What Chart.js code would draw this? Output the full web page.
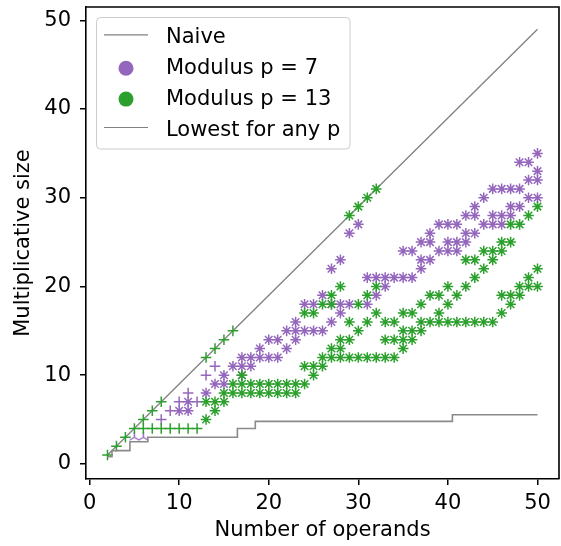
<!DOCTYPE html>
<html><head><meta charset="utf-8">
<script src="https://cdn.jsdelivr.net/npm/chart.js@4"></script>
<style>html,body{margin:0;padding:0;background:#fff}canvas{display:block}</style>
</head><body>
<canvas id="c" width="561" height="546"></canvas>
<script>
// ---------- data ----------
const xTickValues = [0, 10, 20, 30, 40, 50];
const yTickValues = [0, 10, 20, 30, 40, 50];
const legendLabels = ['Naive', 'Modulus p = 7', 'Modulus p = 13', 'Lowest for any p'];

const naiveX = [2, 50];
const naiveY = [1, 49];

const lowestX = [2,3,4,5,6,7,8,9,10,11,12,13,14,15,16,17,18,19,20,21,22,23,24,25,26,
                 27,28,29,30,31,32,33,34,35,36,37,38,39,40,41,42,43,44,45,46,47,48,49,50];
const lowestY = [0.8,1.5,1.5,2.5,2.5,3,3,3,3,3,3,3,3,3,3,4,4,
                 4.8,4.8,4.8,4.8,4.8,4.8,4.8,4.8,4.8,4.8,4.8,4.8,4.8,4.8,4.8,4.8,4.8,4.8,4.8,4.8,4.8,4.8,
                 5.55,5.55,5.55,5.55,5.55,5.55,5.55,5.55,5.55,5.55];

// p = 7 (purple)
const p7Tri = [[5,3],[6,3]];
const p7Plus = [[8,5],[9,6],[10,7],[12,7],[11,8],[13,10],[14,11]];
const p7Star = [[10,6],[11,6],[11,7],[13,8],[14,9],[15,9],[15,10],[16,11],[17,10],[17,11],[17,12],
  [18,11],[18,12],[19,12],[19,13],[20,12],[20,14],[21,12],[21,14],[22,13],[22,15],[23,14],[23,15],[23,16],
  [24,15],[24,18],[25,15],[25,18],[26,15],[26,19],[27,16],[27,18],[27,22],[28,17],[28,18],[28,23],
  [29,18],[29,26],[30,27],[31,18],[31,21],[32,19],[32,21],[33,20],[33,21],[34,21],[35,21],[35,24],
  [36,21],[36,24],[37,22],[37,23],[37,25],[38,23],[38,25],[38,26],[39,24],[39,27],[40,24],[40,25],[40,27],
  [41,24],[41,25],[41,27],[42,25],[42,26],[42,28],[43,26],[43,28],[43,29],[44,27],[44,30],[45,27],[45,28],
  [45,31],[46,27],[46,28],[46,31],[47,28],[47,29],[47,31],[48,29],[48,31],[48,34],[49,30],[49,32],[49,34],
  [50,30],[50,32],[50,33],[50,35]];

// p = 13 (green)
const p13Plus = [[2,1],[3,2],[4,3],[5,4],[6,5],[7,6],[8,7],[6,4],[7,4],[8,4],[9,4],[10,4],[11,4],[12,4],
  [13,12],[14,13],[15,14],[16,15]];
const p13Star = [[13,5],[13,7],[14,6],[14,7],[15,7],[15,8],[16,8],[16,9],[17,8],[17,9],[17,10],
  [18,8],[18,9],[19,8],[19,9],[20,8],[20,9],[21,8],[21,9],[22,8],[22,9],[23,8],[23,9],
  [24,9],[24,11],[24,17],[25,10],[25,11],[25,17],[26,11],[26,12],[26,18],[27,12],[27,13],[27,18],[27,19],
  [28,12],[28,13],[28,14],[28,20],[29,12],[29,14],[29,16],[29,28],[30,12],[30,15],[30,18],[30,29],
  [31,12],[31,16],[31,19],[31,30],[32,12],[32,17],[32,20],[32,31],[33,12],[33,14],[33,16],
  [34,12],[34,14],[34,16],[35,13],[35,14],[35,15],[35,17],[36,14],[36,15],[36,17],[37,15],[37,16],[37,18],
  [38,16],[38,19],[39,16],[39,17],[39,19],[40,16],[40,18],[40,20],[41,16],[41,19],[42,16],[42,20],[42,23],
  [43,16],[43,21],[43,23],[44,16],[44,22],[44,24],[45,16],[45,23],[45,24],[46,17],[46,19],[46,24],[46,25],
  [47,18],[47,19],[47,25],[47,27],[48,19],[48,20],[48,27],[49,20],[49,21],[49,28],[50,20],[50,22],[50,29]];

// ---------- styling ----------
const PURPLE = '#9467bd', GREEN = '#2ca02c', GRAY = '#808080';
const FONT = 'DejaVu Sans';
const FS = 21;
Chart.defaults.font.family = FONT;
Chart.defaults.color = '#000';

function triUp(color) {
  const c = document.createElement('canvas');
  c.width = 13; c.height = 13;
  const g = c.getContext('2d');
  g.strokeStyle = color; g.lineWidth = 1.4;
  const cx = 6.5, cy = 6.5, r = 5.5;
  g.beginPath();
  g.moveTo(cx, cy); g.lineTo(cx, cy - r);
  g.moveTo(cx, cy); g.lineTo(cx - r * 0.866, cy + r * 0.5);
  g.moveTo(cx, cy); g.lineTo(cx + r * 0.866, cy + r * 0.5);
  g.stroke();
  return c;
}
const toPts = arr => arr.map(p => ({x: p[0], y: p[1]}));
function scatterSet(label, pts, color, style, order) {
  return {type: 'scatter', label, data: toPts(pts), pointStyle: style, pointRadius: 5.3,
    pointHoverRadius: 5.3, borderColor: color, backgroundColor: color, pointBorderWidth: 1.5,
    borderWidth: 1.5, showLine: false, order};
}

const datasets = [
  {type: 'line', label: legendLabels[0], data: naiveX.map((x, i) => ({x, y: naiveY[i]})),
   borderColor: GRAY, borderWidth: 1.3, pointRadius: 0, fill: false, order: 5},
  scatterSet(legendLabels[1], p7Star, PURPLE, 'star', 3),
  scatterSet(legendLabels[1], p7Plus, PURPLE, 'cross', 3),
  scatterSet(legendLabels[1], p7Tri, PURPLE, triUp(PURPLE), 3),
  scatterSet(legendLabels[2], p13Star, GREEN, 'star', 2),
  scatterSet(legendLabels[2], p13Plus, GREEN, 'cross', 2),
  {type: 'line', label: legendLabels[3], data: lowestX.map((x, i) => ({x, y: lowestY[i]})),
   borderColor: '#8a8a8a', borderWidth: 1.6, pointRadius: 0, stepped: 'middle', fill: false, order: 1}
];

const framePlugin = {
  id: 'frame',
  afterDatasetsDraw(chart) {
    const {ctx, chartArea: a} = chart;
    ctx.save();
    ctx.strokeStyle = '#000'; ctx.lineWidth = 1.6;
    ctx.beginPath();
    ctx.moveTo(a.left, a.top); ctx.lineTo(a.right, a.top); ctx.lineTo(a.right, a.bottom);
    ctx.stroke();
    ctx.restore();
  }
};

const legendPlugin = {
  id: 'legendBox',
  afterDraw(chart) {
    const ctx = chart.ctx;
    ctx.save();
    const bx = 96.5, by = 17.5, bw = 253.5, bh = 131.5, r = 4;
    ctx.beginPath();
    ctx.moveTo(bx + r, by);
    ctx.lineTo(bx + bw - r, by); ctx.arcTo(bx + bw, by, bx + bw, by + r, r);
    ctx.lineTo(bx + bw, by + bh - r); ctx.arcTo(bx + bw, by + bh, bx + bw - r, by + bh, r);
    ctx.lineTo(bx + r, by + bh); ctx.arcTo(bx, by + bh, bx, by + bh - r, r);
    ctx.lineTo(bx, by + r); ctx.arcTo(bx, by, bx + r, by, r);
    ctx.closePath();
    ctx.fillStyle = 'rgba(255,255,255,0.8)'; ctx.fill();
    ctx.strokeStyle = '#cccccc'; ctx.lineWidth = 1; ctx.stroke();

    const baselines = [43.3, 74.2, 105.1, 136];
    const kinds = ['line', 'dot', 'dot', 'line'];
    const colors = [GRAY, PURPLE, GREEN, GRAY];
    ctx.font = FS + 'px "' + FONT + '"';
    ctx.textBaseline = 'alphabetic';
    for (let i = 0; i < 4; i++) {
      if (kinds[i] === 'line') {
        ctx.strokeStyle = colors[i]; ctx.lineWidth = 1.2;
        ctx.beginPath(); ctx.moveTo(104, baselines[i] - 8.5); ctx.lineTo(148, baselines[i] - 8.5); ctx.stroke();
      } else {
        ctx.fillStyle = colors[i];
        ctx.beginPath(); ctx.arc(126, baselines[i] - 6, 7.5, 0, Math.PI * 2); ctx.fill();
      }
      ctx.fillStyle = '#000';
      ctx.fillText(legendLabels[i], 166, baselines[i]);
    }
    ctx.restore();
  }
};

new Chart(document.getElementById('c').getContext('2d'), {
  type: 'scatter',
  data: {datasets},
  options: {
    responsive: false, animation: false, devicePixelRatio: 1,
    layout: {autoPadding: false, padding: {top: 7, right: 2, left: 0, bottom: 0}},
    plugins: {legend: {display: false}, tooltip: {enabled: false}},
    scales: {
      x: {
        type: 'linear', min: -0.4, max: 52.4,
        afterBuildTicks: s => { s.ticks = xTickValues.map(v => ({value: v})); },
        afterFit: s => { s.height = 67; s.paddingLeft = 0; s.paddingRight = 0; },
        ticks: {font: {size: FS}, color: '#000', padding: 6, maxRotation: 0, autoSkip: false},
        grid: {drawOnChartArea: false, drawTicks: true, tickLength: 6, color: '#000', lineWidth: 1.5},
        border: {display: true, color: '#000', width: 1.6},
        title: {display: true, text: 'Number of operands', font: {size: FS}, color: '#000', padding: {top: 0, bottom: 3}}
      },
      y: {
        type: 'linear', min: -1.7, max: 51.5,
        afterBuildTicks: s => { s.ticks = yTickValues.map(v => ({value: v})); },
        afterFit: s => { s.width = 86; s.paddingTop = 0; s.paddingBottom = 0; },
        ticks: {font: {size: FS}, color: '#000', padding: 9, autoSkip: false},
        grid: {drawOnChartArea: false, drawTicks: true, tickLength: 6, color: '#000', lineWidth: 1.5},
        border: {display: true, color: '#000', width: 1.6},
        title: {display: true, text: 'Multiplicative size', font: {size: FS}, color: '#000', padding: {top: 11, bottom: 0}}
      }
    }
  },
  plugins: [framePlugin, legendPlugin]
});
</script>
</body></html>
